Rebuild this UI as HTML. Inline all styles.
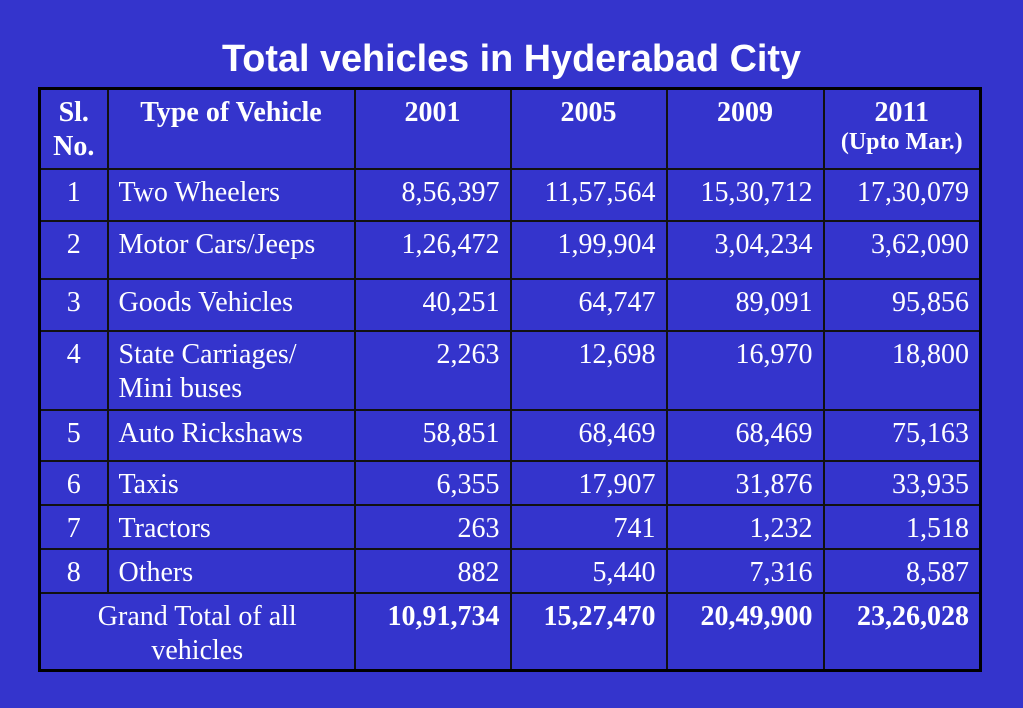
<!DOCTYPE html>
<html><head><meta charset="utf-8"><style>
html,body{margin:0;padding:0;}
body{width:1023px;height:708px;background:#3434cc;position:relative;overflow:hidden;font-family:"Liberation Serif",serif;color:#fff;}
h1{position:absolute;left:0;width:1023px;top:37px;margin:0;text-align:center;font-family:"Liberation Sans",sans-serif;font-weight:bold;font-size:37.8px;line-height:44px;}
table{position:absolute;left:38px;top:87px;border-collapse:collapse;border:3px solid #000;table-layout:fixed;}
td{border:2px solid #111;vertical-align:top;font-size:28px;line-height:34px;padding:6px 10px 0 10px;box-sizing:border-box;white-space:nowrap;}
td.n{text-align:right;}
td.c{text-align:center;}
.h td{font-weight:bold;text-align:center;}
.sub{font-size:24px;line-height:24px;display:block;}
</style></head><body>
<h1>Total vehicles in Hyderabad City</h1>
<table>
<colgroup><col style="width:68px"><col style="width:247px"><col style="width:156px"><col style="width:156px"><col style="width:157px"><col style="width:157px"></colgroup>
<tr class="h" style="height:80px"><td>Sl.<br>No.</td><td>Type of Vehicle</td><td>2001</td><td>2005</td><td>2009</td><td>2011<span class="sub">(Upto Mar.)</span></td></tr>
<tr style="height:52px"><td class="c">1</td><td>Two Wheelers</td><td class="n">8,56,397</td><td class="n">11,57,564</td><td class="n">15,30,712</td><td class="n">17,30,079</td></tr>
<tr style="height:58px"><td class="c">2</td><td>Motor Cars/Jeeps</td><td class="n">1,26,472</td><td class="n">1,99,904</td><td class="n">3,04,234</td><td class="n">3,62,090</td></tr>
<tr style="height:52px"><td class="c">3</td><td>Goods Vehicles</td><td class="n">40,251</td><td class="n">64,747</td><td class="n">89,091</td><td class="n">95,856</td></tr>
<tr style="height:79px"><td class="c">4</td><td>State Carriages/<br>Mini buses</td><td class="n">2,263</td><td class="n">12,698</td><td class="n">16,970</td><td class="n">18,800</td></tr>
<tr style="height:51px"><td class="c">5</td><td>Auto Rickshaws</td><td class="n">58,851</td><td class="n">68,469</td><td class="n">68,469</td><td class="n">75,163</td></tr>
<tr style="height:44px"><td class="c">6</td><td>Taxis</td><td class="n">6,355</td><td class="n">17,907</td><td class="n">31,876</td><td class="n">33,935</td></tr>
<tr style="height:44px"><td class="c">7</td><td>Tractors</td><td class="n">263</td><td class="n">741</td><td class="n">1,232</td><td class="n">1,518</td></tr>
<tr style="height:44px"><td class="c">8</td><td>Others</td><td class="n">882</td><td class="n">5,440</td><td class="n">7,316</td><td class="n">8,587</td></tr>
<tr style="height:78px"><td colspan="2" class="c">Grand Total of all<br>vehicles</td><td class="n"><b>10,91,734</b></td><td class="n"><b>15,27,470</b></td><td class="n"><b>20,49,900</b></td><td class="n"><b>23,26,028</b></td></tr>
</table>
</body></html>
